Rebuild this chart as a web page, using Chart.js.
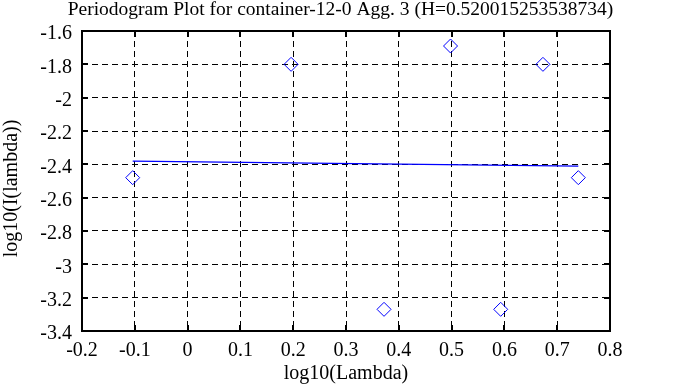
<!DOCTYPE html>
<html>
<head>
<meta charset="utf-8">
<script src="https://cdn.jsdelivr.net/npm/chart.js@4/dist/chart.umd.min.js"></script>
<style>
  body { margin: 0; background: #fff; }
  #chart { display: block; }
</style>
</head>
<body>
<canvas id="chart" width="673" height="387"></canvas>
<script>
// periodogram points (log10 of frequency vs log10 of intensity)
const logLambda = [-0.104, 0.196, 0.372, 0.498, 0.593, 0.673, 0.740];
const logPeriod = [-2.48, -1.80, -3.27, -1.69, -3.27, -1.80, -2.48];

// least squares fit line
const fitX = [-0.104, 0.740];
const fitY = [-2.381, -2.411];

const xTicks = [-0.2, -0.1, 0, 0.1, 0.2, 0.3, 0.4, 0.5, 0.6, 0.7, 0.8];
const yTicks = [-3.4, -3.2, -3, -2.8, -2.6, -2.4, -2.2, -2, -1.8, -1.6];

const titleText = 'Periodogram Plot for container-12-0 Agg. 3 (H=0.520015253538734)';
const xLabel = 'log10(Lambda)';
const yLabel = 'log10(I(lambda))';

const serif = '"Liberation Serif", "Times New Roman", serif';

// box around the plot plus inward tick marks on all four sides
const frame = {
  id: 'frame',
  afterDraw(chart) {
    const { ctx, chartArea: a, scales } = chart;
    ctx.save();
    ctx.strokeStyle = '#000';
    ctx.lineWidth = 2;
    scales.x.ticks.forEach(t => {
      const px = Math.round(scales.x.getPixelForValue(t.value));
      ctx.beginPath();
      ctx.moveTo(px, a.bottom); ctx.lineTo(px, a.bottom - 6);
      ctx.moveTo(px, a.top); ctx.lineTo(px, a.top + 6);
      ctx.stroke();
    });
    scales.y.ticks.forEach(t => {
      const py = Math.round(scales.y.getPixelForValue(t.value));
      ctx.beginPath();
      ctx.moveTo(a.left, py); ctx.lineTo(a.left + 6, py);
      ctx.moveTo(a.right, py); ctx.lineTo(a.right - 6, py);
      ctx.stroke();
    });
    ctx.strokeRect(a.left, a.top, a.right - a.left, a.bottom - a.top);
    ctx.restore();
  }
};

const pts = logLambda.map((x, i) => ({ x: x, y: logPeriod[i] }));
const fitPts = fitX.map((x, i) => ({ x: x, y: fitY[i] }));

new Chart(document.getElementById('chart'), {
  type: 'scatter',
  data: {
    datasets: [
      {
        data: pts,
        pointStyle: 'rectRot',
        pointRadius: 7,
        pointHoverRadius: 7,
        borderColor: '#0000ff',
        backgroundColor: 'rgba(0,0,0,0)',
        borderWidth: 1
      },
      {
        data: fitPts,
        showLine: true,
        pointRadius: 0,
        borderColor: '#0000ff',
        borderWidth: 1.2,
        fill: false
      }
    ]
  },
  options: {
    responsive: false,
    animation: false,
    devicePixelRatio: 1,
    layout: { padding: { left: 8, right: 0, top: 0, bottom: 0 } },
    plugins: {
      legend: { display: false },
      tooltip: { enabled: false },
      title: {
        display: true,
        text: titleText,
        color: '#000',
        font: { family: serif, size: 19.5, weight: 'normal', lineHeight: 1 },
        padding: { top: 0.5, bottom: 11 }
      }
    },
    scales: {
      x: {
        type: 'linear',
        position: 'bottom',
        min: -0.2,
        max: 0.8,
        afterBuildTicks: s => { s.ticks = xTicks.map(v => ({ value: v })); },
        afterFit: s => { s.height = 56; },
        grid: { color: '#000', lineWidth: 1, drawTicks: false },
        border: { display: false, dash: [6, 4] },
        ticks: {
          color: '#000',
          padding: 7.5,
          maxRotation: 0,
          font: { family: serif, size: 20 },
          callback: v => String(v)
        },
        title: {
          display: true,
          text: xLabel,
          color: '#000',
          font: { family: serif, size: 20 },
          padding: { top: 0, bottom: 1 }
        }
      },
      y: {
        type: 'linear',
        position: 'left',
        min: -3.4,
        max: -1.6,
        afterBuildTicks: s => { s.ticks = yTicks.map(v => ({ value: v })); },
        afterFit: s => { s.width = 74; },
        grid: { color: '#000', lineWidth: 1, drawTicks: false },
        border: { display: false, dash: [6, 4] },
        ticks: {
          color: '#000',
          padding: 10,
          labelOffset: 3,
          font: { family: serif, size: 20 },
          callback: v => String(v)
        },
        title: {
          display: true,
          // trailing spaces nudge the rotated label down a little, like the original
          text: yLabel + '   ',
          color: '#000',
          font: { family: serif, size: 20 },
          padding: { top: -8, bottom: 0 }
        }
      },
      y2: {
        type: 'linear',
        position: 'right',
        afterFit: s => { s.width = 63; },
        grid: { display: false, drawTicks: false },
        border: { display: false },
        ticks: { display: false }
      }
    }
  },
  plugins: [frame]
});
</script>
</body>
</html>
